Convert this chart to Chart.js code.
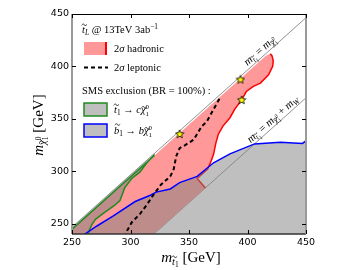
<!DOCTYPE html>
<html>
<head>
<meta charset="utf-8">
<script src="https://cdn.jsdelivr.net/npm/chart.js@4.4.0/dist/chart.umd.min.js"></script>
<style>html,body{margin:0;padding:0;background:#fff}</style>
</head>
<body>
<canvas id="c" width="360" height="270"></canvas>
<script>
// axis ticks
const xTicks = [250, 300, 350, 400, 450];
const yTicks = [250, 300, 350, 400, 450];

// m_stop = m_chi  and  m_stop = m_chi + m_W
const diagX = [240, 460];
const diagY = [236.5, 456.5];
const mwX = [310, 460];
const mwY = [230, 380];

// 2 sigma hadronic : red right edge of the pink region
const hadX = [419.5, 421, 422, 421.5, 418, 411, 405, 399, 395, 389, 385, 379, 375, 373, 371, 369, 366, 357, 364];
const hadY = [412, 410, 405, 400, 392, 384, 381, 376, 368, 359, 351, 343, 335, 327, 316, 310, 302, 293, 284];

// 2 sigma leptonic (dashed)
const lepX = [376, 371, 365, 361, 354, 347, 342, 339, 337, 334, 326, 320, 314, 308, 301, 297, 295, 294];
const lepY = [369, 359, 347, 343, 330, 325, 322, 314, 302, 295, 287, 278, 268, 259, 251, 243, 238, 232];

// SMS stop -> c chi (green), lower edge from the tip downwards
const charmX = [320, 314, 308, 301, 295, 291, 286, 277, 270, 267, 265, 264, 263.5];
const charmY = [315, 308, 299, 293, 284, 272, 267, 260, 254, 249, 244, 240, 230];

// SMS sbottom -> b chi (blue)
const sbotX = [255, 261, 271, 285, 304, 317, 322, 334, 342, 357, 371, 385, 406, 428, 447, 450, 456];
const sbotY = [235, 240, 247.4, 257, 271, 277, 280, 283, 289, 295, 308, 316.5, 326, 327.6, 326.5, 329, 330];

// benchmark points
const starX = [342, 394, 395];
const starY = [335.5, 387.5, 368];

const OFF = 3.5;   // diagonal offset used for the band edges
const GAP = 2;
const PINK = 'rgb(255,153,153)';
const GREY = 'rgba(128,128,128,0.5)';
const SERIF = '"Liberation Serif", "DejaVu Serif", serif';

function pts(xs, ys) {
  return xs.map((x, i) => ({x: x, y: ys[i]}));
}
const edge = x => ({x: x, y: x - OFF - GAP});

// pink region: below the diagonal, left of the red edge, above the mW line
const pinkPoly = [edge(230), edge(415.5)]
  .concat(pts(hadX, hadY))
  .concat([{x: 310, y: 230}]);

const stripPoly = [{x: 240, y: 240 - OFF}, {x: 320, y: 320 - OFF}, edge(320), edge(240)];
const charmPoly = [edge(240), edge(320)]
  .concat(pts(charmX, charmY))
  .concat([{x: 240, y: 230}, edge(240)]);
const sbotPoly = pts(sbotX, sbotY).concat([{x: 456, y: 230}, {x: 255, y: 230}, {x: 255, y: 235}]);

const starImg = document.createElement('canvas');
starImg.width = 10; starImg.height = 10;
(function () {
  const g = starImg.getContext('2d');
  g.beginPath();
  for (let k = 0; k < 10; k++) {
    const r = k % 2 ? 1.9 : 4.4;
    const a = -Math.PI / 2 + k * Math.PI / 5;
    g.lineTo(5 + r * Math.cos(a), 5.3 + r * Math.sin(a));
  }
  g.closePath();
  g.fillStyle = '#ffff00';
  g.fill();
  g.lineWidth = 0.8;
  g.strokeStyle = '#000';
  g.stroke();
})();

// small math-ish text drawing
function drawRich(ctx, parts, x, y, size, align) {
  let w = 0;
  const items = parts.map(p => {
    const fs = size * (p.s || 1);
    const font = (p.i ? 'italic ' : '') + fs + 'px ' + SERIF;
    ctx.font = font;
    let pw = ctx.measureText(p.t).width;
    if (p.sup) pw = Math.max(pw, ctx.measureText(p.sup).width);
    const it = {p: p, fs: fs, font: font, x: w, w: pw};
    w += pw + (p.gap || 0);
    return it;
  });
  const x0 = align === 'center' ? x - w / 2 : (align === 'right' ? x - w : x);
  ctx.textAlign = 'left';
  ctx.textBaseline = 'alphabetic';
  items.forEach(it => {
    const yy = y + (it.p.dy || 0) * size;
    ctx.font = it.font;
    ctx.fillText(it.p.t, x0 + it.x, yy);
    if (it.p.sup) ctx.fillText(it.p.sup, x0 + it.x, yy - it.fs * 0.95);
    if (it.p.tilde) {
      const cx = x0 + it.x + it.w / 2 + it.fs * 0.08;
      const ty = yy - it.fs * it.p.tilde;
      const hw = it.fs * 0.26, hh = it.fs * 0.07;
      ctx.save();
      ctx.lineWidth = Math.max(0.6, it.fs * 0.07);
      ctx.strokeStyle = ctx.fillStyle;
      ctx.beginPath();
      ctx.moveTo(cx - hw, ty + hh * 0.6);
      ctx.bezierCurveTo(cx - hw / 2, ty - hh * 2, cx, ty - hh, cx, ty);
      ctx.bezierCurveTo(cx, ty + hh, cx + hw / 2, ty + hh * 2, cx + hw, ty - hh * 0.6);
      ctx.stroke();
      ctx.restore();
    }
  });
}

const mStop = [{t: 'm', i: true}, {t: 't', i: true, s: 0.7, dy: 0.2, tilde: 0.78}, {t: '1', s: 0.5, dy: 0.35}];
const mChi = [{t: 'm', i: true}, {t: 'χ', i: true, s: 0.7, dy: 0.2, tilde: 0.55}, {t: '1', s: 0.5, dy: 0.35, sup: '0'}];

const decorations = {
  id: 'decorations',
  afterDatasetsDraw(chart) {
    const ctx = chart.ctx;
    const xs = chart.scales.x, ys = chart.scales.y;
    const a = chart.chartArea;
    ctx.save();
    ctx.fillStyle = '#000';

    // labels along the two kinematic lines
    ctx.save();
    ctx.beginPath();
    ctx.rect(a.left, a.top, a.right - a.left, a.bottom - a.top);
    ctx.clip();
    [[diagX, diagY, 414, OFF, []], [mwX, mwY, 425, 80, [{t: ' + '}, {t: 'm', i: true}, {t: 'W', i: true, s: 0.7, dy: 0.2}]]].forEach(L => {
      const x1 = xs.getPixelForValue(L[0][0]), y1 = ys.getPixelForValue(L[1][0]);
      const x2 = xs.getPixelForValue(L[0][1]), y2 = ys.getPixelForValue(L[1][1]);
      const ang = Math.atan2(y2 - y1, x2 - x1);
      const px = xs.getPixelForValue(L[2]), py = ys.getPixelForValue(L[2] - L[3]);
      ctx.save();
      ctx.translate(px, py);
      ctx.rotate(ang);
      drawRich(ctx, mStop.concat([{t: ' = '}]).concat(mChi).concat(L[4]), 0, -3, 11, 'center');
      ctx.restore();
    });
    ctx.restore();

    // frame
    ctx.lineWidth = 1;
    ctx.strokeStyle = '#000';
    ctx.beginPath();
    ctx.moveTo(a.left, a.top + 0.5); ctx.lineTo(a.right, a.top + 0.5);
    ctx.stroke();
    ctx.lineWidth = 1.5;
    ctx.strokeStyle = '#333';
    ctx.beginPath();
    ctx.moveTo(a.left, a.bottom); ctx.lineTo(a.right, a.bottom);
    ctx.stroke();
    ctx.lineWidth = 2;
    ctx.strokeStyle = '#999';
    ctx.beginPath();
    ctx.moveTo(a.left, a.top); ctx.lineTo(a.left, a.bottom);
    ctx.moveTo(a.right, a.top); ctx.lineTo(a.right, a.bottom);
    ctx.stroke();

    // inward ticks on all four sides
    ctx.lineWidth = 1;
    ctx.strokeStyle = '#000';
    ctx.beginPath();
    xTicks.forEach(v => {
      const p = Math.round(xs.getPixelForValue(v)) + 0.5;
      ctx.moveTo(p, a.bottom); ctx.lineTo(p, a.bottom - 4);
      ctx.moveTo(p, a.top); ctx.lineTo(p, a.top + 4);
    });
    yTicks.forEach(v => {
      const p = Math.round(ys.getPixelForValue(v)) + 0.5;
      ctx.moveTo(a.left, p); ctx.lineTo(a.left + 4, p);
      ctx.moveTo(a.right, p); ctx.lineTo(a.right - 4, p);
    });
    ctx.stroke();

    // axis titles
    drawRich(ctx, mStop.concat([{t: ' [GeV]'}]), (a.left + a.right) / 2 + 2, 262, 15, 'center');
    ctx.save();
    ctx.translate(43, (a.top + a.bottom) / 2 + 1);
    ctx.rotate(-Math.PI / 2);
    drawRich(ctx, mChi.concat([{t: ' [GeV]'}]), 0, 0, 15, 'center');
    ctx.restore();

    // legend
    const lx = 84, tx = 114;
    drawRich(ctx, [{t: 't', i: true, tilde: 0.78}, {t: 'L', i: true, s: 0.7, dy: 0.2},
      {t: ' @ 13TeV 3ab'}, {t: '−1', s: 0.7, dy: -0.4}], 82, 33, 10.5, 'left');

    ctx.fillStyle = PINK;
    ctx.fillRect(lx, 42, 23, 13);
    ctx.fillStyle = 'red';
    ctx.fillRect(lx + 21, 42, 2, 13);
    ctx.fillStyle = '#000';
    drawRich(ctx, [{t: '2'}, {t: 'σ', i: true}, {t: ' hadronic'}], tx, 52, 10.5, 'left');

    ctx.save();
    ctx.setLineDash([4, 3]);
    ctx.lineWidth = 2;
    ctx.beginPath();
    ctx.moveTo(lx, 67.5); ctx.lineTo(lx + 24, 67.5);
    ctx.stroke();
    ctx.restore();
    drawRich(ctx, [{t: '2'}, {t: 'σ', i: true}, {t: ' leptonic'}], tx, 71, 10.5, 'left');

    drawRich(ctx, [{t: 'SMS exclusion (BR = 100%) :'}], 82, 94, 10.5, 'left');

    [['#1f8a1f', 103, [{t: 't', i: true, tilde: 0.78}, {t: '1', s: 0.7, dy: 0.2}, {t: ' → '}, {t: 'c', i: true}, {t: 'χ', i: true, tilde: 0.55}, {t: '1', s: 0.65, dy: 0.25, sup: '0'}]],
     ['#0000ff', 124, [{t: 'b', i: true, tilde: 0.9}, {t: '1', s: 0.7, dy: 0.2}, {t: ' → '}, {t: 'b', i: true}, {t: 'χ', i: true, tilde: 0.55}, {t: '1', s: 0.65, dy: 0.25, sup: '0'}]]
    ].forEach(L => {
      ctx.fillStyle = GREY;
      ctx.fillRect(lx, L[1], 23, 13);
      ctx.lineWidth = 1.5;
      ctx.strokeStyle = L[0];
      ctx.strokeRect(lx, L[1], 23, 13);
      ctx.fillStyle = '#000';
      drawRich(ctx, L[2], tx, L[1] + 10, 10.5, 'left');
    });
    ctx.restore();
  }
};

const poly = (data, fill, border, width, order) => ({
  data: data, showLine: true, fill: fill ? 'shape' : false,
  backgroundColor: fill || 'transparent', borderColor: border || 'transparent',
  borderWidth: width || 0, pointRadius: 0, tension: 0, clip: 0, order: order
});

new Chart(document.getElementById('c'), {
  type: 'scatter',
  data: {
    datasets: [
      {data: pts(starX, starY), pointStyle: starImg, pointRadius: 5, showLine: false, clip: 0, order: 0},
      Object.assign(poly(pts(lepX, lepY), null, '#000', 2, 1), {borderDash: [4, 3]}),
      poly(sbotPoly, GREY, '#0000ff', 1.5, 2),
      poly(charmPoly, GREY, '#1f8a1f', 1.5, 3),
      poly(stripPoly, GREY, null, 0, 4),
      poly(pts(hadX, hadY), null, 'red', 1.5, 5),
      poly(pinkPoly, PINK, null, 0, 6),
      poly(pts(diagX, diagY), null, '#777', 0.8, 7),
      poly(pts(mwX, mwY), null, '#777', 0.8, 8)
    ]
  },
  options: {
    responsive: false,
    animation: false,
    devicePixelRatio: 1,
    layout: {padding: {top: 14, right: 54, left: 0, bottom: 0}},
    plugins: {legend: {display: false}, tooltip: {enabled: false}},
    scales: {
      x: {
        type: 'linear', min: 250, max: 450,
        afterBuildTicks: s => { s.ticks = xTicks.map(v => ({value: v})); },
        afterFit: s => { s.height = 36; },
        grid: {display: false, drawTicks: false}, border: {display: false},
        ticks: {padding: 3, color: '#000', font: {family: 'DejaVu Sans', size: 9.5}, maxRotation: 0}
      },
      y: {
        type: 'linear', min: 240, max: 450,
        afterBuildTicks: s => { s.ticks = yTicks.map(v => ({value: v})); },
        afterFit: s => { s.width = 72; },
        grid: {display: false, drawTicks: false}, border: {display: false},
        ticks: {padding: 3, color: '#000', font: {family: 'DejaVu Sans', size: 9.5}}
      }
    }
  },
  plugins: [decorations]
});
</script>
</body>
</html>
